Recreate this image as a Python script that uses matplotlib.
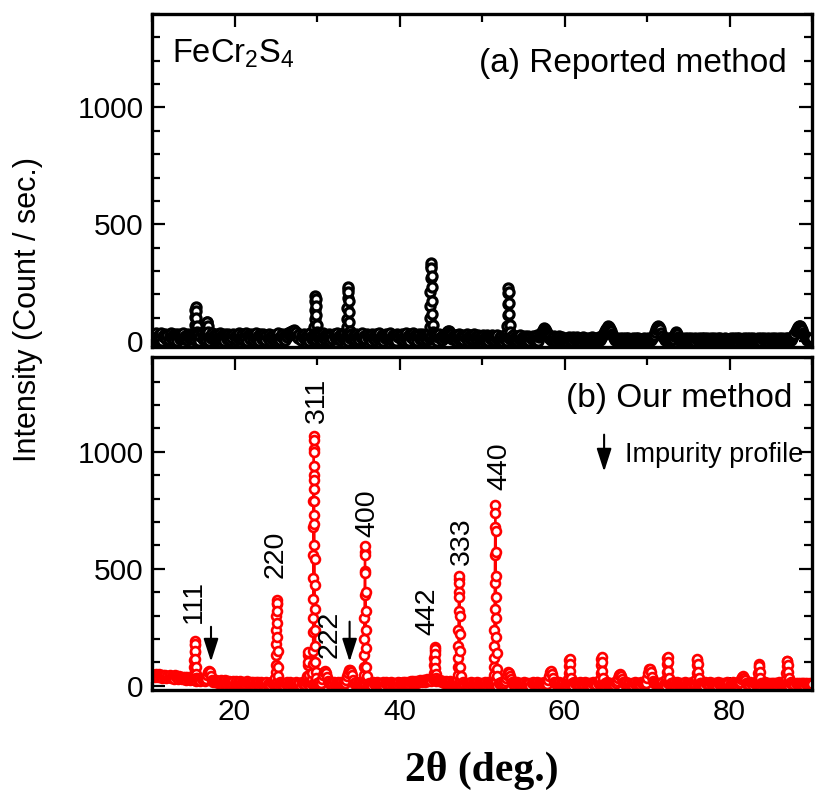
import numpy as np
import matplotlib
matplotlib.use("Agg")
import matplotlib.pyplot as plt
from matplotlib.ticker import MultipleLocator

plt.rcParams['font.family'] = ['Liberation Sans', 'DejaVu Sans']
plt.rcParams['mathtext.fontset'] = 'custom'
plt.rcParams['mathtext.rm'] = 'Liberation Sans'

# ---------------- data ----------------
# scan grid (2theta, deg.), 0.125 deg step, 10 .. 90
two_theta = np.round(10 + 0.125 * np.arange(641), 3)

# (a) Reported method: background intensities on the scan grid (one line = 2.5 deg)
bg_a = [
    30, 12, 26, 5, 33, 19, 8, 28, 15, 35, 2, 24, 17, 31, 9, 27, 4, 20, 34, 11,
    25, 6, 29, 16, 1, 32, 21, 10, 26, 14, 36, 7, 23, 18, 3, 30, 13, 27, 8, 22,
    16, 33, 5, 25, 12, 29, 2, 21, 34, 10, 27, 15, 6, 31, 19, 1, 24, 13, 35, 8,
    28, 17, 4, 30, 11, 22, 33, 7, 26, 14, 0, 29, 20, 9, 32, 16, 5, 25, 12, 31,
    23, 3, 28, 14, 34, 9, 19, 30, 6, 24, 12, 33, 1, 27, 17, 8, 31, 21, 4, 26,
    13, 35, 10, 22, 2, 29, 16, 7, 32, 18, 5, 25, 14, 30, 0, 21, 11, 28, 6, 19,
    27, 9, 33, 15, 4, 24, 31, 12, 20, 6, 29, 17, 34, 26, 40, 30, 45, 36, 48, 28,
    38, 22, 13, 30, 3, 25, 18, 32, 8, 21, 11, 27, 1, 33, 16, 7, 24, 14, 29, 5,
    22, 31, 10, 26, 3, 18, 34, 13, 28, 6, 20, 15, 32, 1, 25, 11, 30, 19, 7, 35,
    14, 23, 4, 29, 12, 21, 33, 9, 17, 27, 2, 24, 15, 31, 8, 19, 26, 5, 30, 13,
    20, 6, 28, 16, 33, 3, 23, 11, 30, 18, 8, 26, 0, 32, 14, 21, 5, 29, 12, 24,
    35, 9, 17, 27, 2, 22, 15, 31, 7, 25, 13, 34, 4, 19, 28, 10, 23, 1, 30, 16,
    26, 11, 31, 4, 21, 15, 33, 8, 24, 2, 29, 17, 12, 35, 6, 27, 19, 1, 23, 30,
    9, 16, 32, 5, 25, 13, 28, 3, 20, 34, 10, 22, 7, 29, 14, 26, 0, 18, 31, 12,
    19, 5, 27, 13, 24, 31, 38, 42, 44, 36, 30, 9, 22, 16, 28, 2, 25, 11, 32, 7,
    18, 26, 4, 21, 14, 29, 0, 23, 10, 27, 17, 6, 30, 12, 20, 3, 25, 15, 8, 24,
    13, 26, 4, 19, 10, 28, 1, 22, 15, 7, 25, 17, 3, 20, 12, 27, 6, 18, 24, 0,
    14, 21, 9, 26, 2, 16, 23, 8, 19, 11, 28, 5, 17, 13, 1, 22, 10, 25, 6, 15,
    18, 3, 21, 9, 14, 24, 0, 16, 11, 22, 5, 19, 8, 25, 2, 17, 28, 34, 40, 48,
    56, 52, 44, 36, 26, 12, 20, 4, 15, 9, 23, 1, 13, 18, 6, 21, 10, 3, 16, 8,
    11, 2, 15, 7, 18, 4, 12, 0, 16, 9, 13, 3, 17, 6, 10, 1, 14, 8, 18, 5,
    11, 2, 15, 9, 0, 13, 6, 17, 3, 10, 14, 7, 1, 16, 5, 12, 20, 28, 36, 44,
    52, 58, 63, 60, 54, 44, 32, 20, 12, 4, 14, 8, 1, 11, 15, 6, 2, 13, 9, 0,
    12, 5, 15, 7, 3, 10, 14, 1, 8, 12, 4, 15, 6, 0, 11, 9, 2, 13, 5, 10,
    7, 14, 2, 11, 5, 15, 18, 28, 40, 52, 62, 66, 60, 50, 36, 22, 12, 3, 14, 8,
    1, 12, 6, 15, 4, 10, 22, 32, 38, 30, 18, 9, 2, 13, 6, 0, 11, 14, 4, 8,
    12, 1, 9, 15, 5, 11, 0, 14, 7, 3, 13, 10, 2, 15, 6, 12, 4, 9, 14, 0,
    11, 7, 13, 2, 10, 15, 5, 8, 1, 12, 6, 14, 3, 9, 11, 0, 13, 7, 4, 10,
    5, 13, 2, 10, 14, 7, 0, 12, 8, 15, 3, 11, 6, 1, 14, 9, 4, 12, 10, 2,
    15, 7, 0, 13, 5, 11, 8, 3, 14, 6, 1, 12, 9, 15, 4, 10, 2, 13, 7, 11,
    3, 12, 8, 0, 14, 6, 10, 2, 13, 5, 9, 15, 1, 11, 7, 14, 4, 12, 0, 10,
    6, 13, 20, 30, 42, 54, 62, 66, 63, 56, 46, 36, 26, 18, 12, 5, 14, 8, 11, 15,
    15,
]
# (a) sharp peak points
peak_a_x = [15.16, 15.20, 15.24, 15.27, 15.30, 15.33, 15.36, 15.40, 15.44,
            16.60, 16.64, 16.68, 16.72, 16.76, 16.80,
            29.64, 29.68, 29.72, 29.75, 29.78, 29.81, 29.84, 29.87, 29.90, 29.94, 29.98,
            33.58, 33.62, 33.66, 33.69, 33.72, 33.75, 33.78, 33.81, 33.84, 33.87, 33.90, 33.94,
            43.60, 43.64, 43.68, 43.71, 43.74, 43.77, 43.80, 43.83, 43.86, 43.89, 43.92, 43.95,
            43.98, 44.02, 44.06,
            53.04, 53.08, 53.12, 53.15, 53.18, 53.21, 53.24, 53.27, 53.30, 53.34, 53.38]
peak_a_y = [40, 70, 105, 135, 148, 130, 100, 65, 40,
            40, 60, 80, 84, 65, 40,
            35, 60, 95, 135, 172, 191, 180, 150, 110, 70, 40,
            35, 60, 95, 140, 185, 222, 231, 210, 170, 125, 80, 45,
            35, 60, 100, 150, 210, 270, 320, 333, 315, 280, 230, 170,
            115, 70, 40,
            35, 65, 110, 160, 205, 226, 210, 165, 115, 70, 40]

# (b) Our method: background intensities on the scan grid (one line = 2.5 deg)
bg_b = [
    50, 41, 47, 36, 52, 44, 38, 49, 40, 46, 34, 45, 39, 48, 35, 43, 37, 46, 32, 42,
    38, 30, 44, 36, 40, 29, 41, 34, 38, 27, 39, 31, 36, 26, 37, 30, 34, 24, 35, 28,
    32, 25, 30, 22, 33, 26, 28, 20, 31, 24, 27, 19, 30, 48, 60, 65, 58, 42, 26, 18,
    25, 16, 23, 19, 13, 22, 17, 24, 12, 20, 15, 23, 11, 19, 16, 21, 10, 18, 14, 20,
    13, 19, 9, 17, 14, 20, 8, 16, 12, 18, 7, 15, 19, 10, 14, 6, 17, 11, 15, 5,
    13, 18, 9, 16, 4, 12, 17, 8, 14, 3, 11, 16, 7, 13, 2, 15, 10, 12, 6, 14,
    9, 15, 3, 12, 17, 6, 11, 14, 1, 13, 8, 16, 4, 10, 15, 7, 12, 2, 14, 9,
    17, 5, 11, 13, 0, 15, 8, 12, 3, 16, 10, 6, 13, 1, 11, 14, 7, 9, 15, 4,
    12, 8, 15, 3, 11, 28, 46, 60, 65, 56, 38, 22, 10, 14, 5, 12, 16, 2, 13, 9,
    15, 6, 11, 17, 3, 14, 8, 12, 24, 40, 56, 66, 68, 60, 44, 26, 12, 7, 15, 4,
    13, 9, 16, 2, 12, 15, 6, 11, 17, 4, 14, 8, 10, 1, 15, 12, 5, 13, 16, 7,
    11, 3, 14, 9, 17, 0, 12, 15, 6, 10, 13, 2, 16, 8, 11, 14, 4, 12, 9, 15,
    10, 14, 6, 16, 11, 18, 8, 13, 17, 9, 15, 19, 12, 20, 14, 18, 22, 13, 21, 16,
    24, 19, 15, 23, 26, 18, 22, 28, 20, 25, 30, 22, 27, 24, 29, 21, 26, 23, 19, 24,
    20, 16, 22, 13, 18, 21, 11, 17, 14, 19, 8, 15, 12, 18, 6, 14, 17, 9, 13, 16,
    4, 12, 15, 7, 11, 14, 2, 13, 10, 16, 5, 12, 14, 8, 11, 15, 3, 10, 13, 6,
    14, 9, 12, 16, 4, 11, 15, 7, 13, 2, 10, 14, 6, 12, 16, 1, 13, 9, 15, 5,
    11, 14, 22, 34, 48, 58, 55, 42, 28, 16, 8, 13, 3, 11, 15, 6, 12, 9, 14, 2,
    12, 15, 5, 10, 14, 8, 13, 1, 11, 16, 6, 12, 9, 15, 3, 13, 10, 14, 4, 11,
    16, 7, 12, 9, 24, 42, 58, 62, 52, 34, 18, 10, 14, 5, 12, 15, 2, 11, 8, 13,
    9, 14, 3, 12, 16, 7, 11, 13, 0, 15, 10, 6, 14, 12, 4, 16, 9, 11, 13, 2,
    15, 8, 12, 5, 14, 10, 1, 13, 16, 7, 11, 3, 15, 9, 12, 6, 14, 10, 4, 13,
    11, 15, 6, 12, 2, 14, 9, 13, 4, 16, 10, 20, 34, 46, 50, 42, 28, 16, 12, 7,
    15, 3, 11, 14, 8, 13, 1, 12, 16, 5, 10, 14, 9, 2, 15, 11, 6, 13, 8, 12,
    34, 54, 70, 72, 58, 38, 20, 12, 15, 6, 11, 14, 3, 13, 9, 16, 7, 12, 1, 15,
    10, 14, 5, 11, 13, 8, 16, 2, 12, 15, 6, 10, 14, 4, 13, 9, 11, 15, 3, 12,
    8, 14, 11, 2, 15, 9, 13, 6, 12, 16, 4, 10, 14, 7, 11, 1, 15, 12, 9, 13,
    5, 16, 10, 3, 14, 8, 12, 11, 0, 15, 7, 13, 10, 4, 14, 9, 12, 6, 15, 11,
    3, 13, 9, 15, 6, 12, 14, 2, 11, 16, 18, 28, 36, 40, 34, 24, 14, 8, 12, 5,
    15, 10, 13, 1, 11, 14, 7, 12, 9, 16, 4, 13, 10, 6, 15, 12, 2, 14, 9, 11,
    7, 13, 10, 3, 14, 12, 5, 11, 15, 8, 13, 2, 12, 9, 14, 6, 11, 13, 1, 10,
    15, 7, 12, 4, 13, 9, 11, 3, 14, 8, 10, 12, 0, 11, 6, 13, 9, 4, 10, 7,
    8,
]
# (b) peak points
peak_b_x = [15.04, 15.08, 15.12, 15.14, 15.16, 15.18, 15.20, 15.22, 15.24, 15.26, 15.28, 15.32, 15.36,
            24.90, 24.94, 24.98, 25.00, 25.02, 25.04, 25.06, 25.08, 25.10, 25.12, 25.14, 25.16,
            25.18, 25.20, 25.22, 25.26, 25.30,
            28.84, 28.88, 28.90, 28.92, 28.94, 28.98,
            29.40, 29.44, 29.47, 29.49, 29.51, 29.52, 29.53, 29.54, 29.55, 29.56, 29.57, 29.58,
            29.59, 29.60, 29.61, 29.62, 29.63, 29.64, 29.65, 29.66, 29.67, 29.68, 29.69, 29.70,
            29.72, 29.74, 29.76, 29.78, 29.81, 29.85, 29.90,
            35.60, 35.64, 35.68, 35.70, 35.72, 35.74, 35.76, 35.78, 35.80, 35.82, 35.84, 35.86,
            35.88, 35.90, 35.92, 35.94, 35.98, 36.02,
            44.14, 44.18, 44.22, 44.24, 44.26, 44.28, 44.30, 44.32, 44.34, 44.36, 44.40, 44.44,
            47.00, 47.04, 47.08, 47.10, 47.12, 47.14, 47.16, 47.18, 47.20, 47.22, 47.24, 47.26,
            47.28, 47.30, 47.32, 47.36, 47.40,
            51.36, 51.40, 51.44, 51.46, 51.48, 51.50, 51.52, 51.54, 51.56, 51.58, 51.60, 51.62,
            51.64, 51.66, 51.68, 51.70, 51.72, 51.74, 51.76, 51.80, 51.84,
            60.44, 60.50, 60.54, 60.58, 60.62, 60.66, 60.70, 60.76,
            64.34, 64.40, 64.44, 64.48, 64.52, 64.56, 64.60, 64.66,
            72.34, 72.40, 72.44, 72.48, 72.52, 72.56, 72.60, 72.66,
            75.94, 76.00, 76.04, 76.08, 76.12, 76.16, 76.20, 76.26,
            83.44, 83.50, 83.54, 83.58, 83.62, 83.66, 83.72,
            86.84, 86.90, 86.94, 86.98, 87.02, 87.06, 87.10, 87.16]
peak_b_y = [35, 50, 80, 110, 145, 175, 193, 180, 150, 115, 80, 50, 35,
            20, 35, 60, 90, 130, 180, 240, 300, 350, 367, 355, 320,
            270, 210, 150, 80, 40,
            40, 90, 130, 145, 100, 45,
            30, 55, 95, 150, 230, 290, 370, 460, 560, 680, 790, 900,
            1010, 1068, 1050, 1000, 940, 880, 840, 790, 730, 690, 600, 540,
            430, 330, 240, 170, 100, 60, 35,
            25, 45, 80, 130, 200, 290, 390, 490, 570, 596, 560, 480,
            400, 320, 240, 160, 80, 40,
            35, 55, 90, 120, 150, 164, 158, 135, 105, 75, 50, 35,
            25, 45, 80, 120, 170, 240, 320, 400, 455, 469, 440, 380,
            300, 220, 150, 80, 40,
            25, 45, 80, 120, 170, 240, 330, 440, 560, 680, 773, 740,
            660, 570, 470, 380, 290, 210, 140, 70, 40,
            30, 55, 85, 110, 115, 95, 65, 35,
            30, 55, 90, 115, 122, 100, 65, 35,
            30, 60, 95, 118, 122, 100, 65, 35,
            30, 55, 88, 110, 115, 95, 60, 32,
            30, 55, 80, 93, 85, 60, 32,
            30, 55, 85, 105, 108, 90, 60, 32]

# Miller index labels (b): label, x, y of label start
hkl_labels = ['111', '220', '311', '222', '400', '442', '333', '440']
hkl_x = [15.07, 25.0, 29.95, 31.5, 36.06, 43.4, 47.6, 52.15]
hkl_y = [269, 462, 1124, 120, 637, 218, 517, 838]
# impurity arrows (x, tail y, head y)
imp_x = [17.15, 33.95]
imp_tail = [252, 274]
imp_head = [103, 103]

assert len(bg_a) == len(two_theta) and len(bg_b) == len(two_theta)
assert len(peak_a_x) == len(peak_a_y) and len(peak_b_x) == len(peak_b_y)


def merged(bg, px, py):
    x = np.concatenate([two_theta, np.asarray(px, float)])
    y = np.concatenate([np.asarray(bg, float), np.asarray(py, float)])
    order = np.argsort(x, kind='stable')
    return x[order], y[order]


xa, ya = merged(bg_a, peak_a_x, peak_a_y)
xb, yb = merged(bg_b, peak_b_x, peak_b_y)

# ---------------- figure ----------------
fig = plt.figure(figsize=(8.16, 7.92), dpi=100)
ax_a = fig.add_axes([0.1863, 0.5619, 0.8088, 0.4205])
ax_b = fig.add_axes([0.1863, 0.1288, 0.8088, 0.4205])

ax_a.plot(xa, ya, '-', color='black', lw=1.2, marker='o', ms=6.6,
          mfc='white', mec='black', mew=2.3)
ax_b.plot(xb, yb, '-', color='#ff0000', lw=1.6, marker='o', ms=6.4,
          mfc='white', mec='#ff0000', mew=1.9)

for ax, yl in ((ax_a, (-25, 1400)), (ax_b, (-18, 1405))):
    ax.set_xlim(10, 90)
    ax.set_ylim(*yl)
    ax.xaxis.set_major_locator(MultipleLocator(20))
    ax.xaxis.set_minor_locator(MultipleLocator(10))
    ax.yaxis.set_major_locator(MultipleLocator(500))
    ax.yaxis.set_minor_locator(MultipleLocator(100))
    ax.tick_params(which='both', direction='in', top=True, right=True,
                   width=1.6, labelsize=21.5, pad=6)
    ax.tick_params(which='major', length=9.5)
    ax.tick_params(which='minor', length=6)
    for s in ax.spines.values():
        s.set_linewidth(2.4)
ax_a.tick_params(labelbottom=False)

ax_a.text(0.030, 0.856, r'FeCr$_\mathregular{2}$S$_\mathregular{4}$',
          transform=ax_a.transAxes, fontsize=23.5, ha='left', va='baseline')
ax_a.text(0.961, 0.826, '(a) Reported method', transform=ax_a.transAxes,
          fontsize=24, ha='right', va='baseline')
ax_b.text(0.971, 0.85, '(b) Our method', transform=ax_b.transAxes,
          fontsize=24, ha='right', va='baseline')

for lab, x, y in zip(hkl_labels, hkl_x, hkl_y):
    ax_b.text(x, y, lab, rotation=90, ha='center', va='bottom', fontsize=20.5)

arrow_style = dict(arrowstyle='-|>,head_length=1.4,head_width=0.45',
                   color='black', lw=1.5, shrinkA=0, shrinkB=0)
for x, t, h in zip(imp_x, imp_tail, imp_head):
    ax_b.annotate('', xy=(x, h), xytext=(x, t), arrowprops=arrow_style)
ax_b.annotate('', xy=(64.8, 915), xytext=(64.8, 1073), arrowprops=arrow_style)
ax_b.text(67.3, 957, 'Impurity profile', fontsize=19.5, ha='left', va='baseline')

fig.text(28 / 816, 0.609, 'Intensity (Count / sec.)', rotation=90,
         ha='center', va='center', fontsize=22)
fig.text(482 / 816, 1 - 781 / 792, '2\u03b8 (deg.)', family='Liberation Serif',
         weight='bold', fontsize=30, ha='center', va='baseline')

fig.savefig('out.png', dpi=100)
